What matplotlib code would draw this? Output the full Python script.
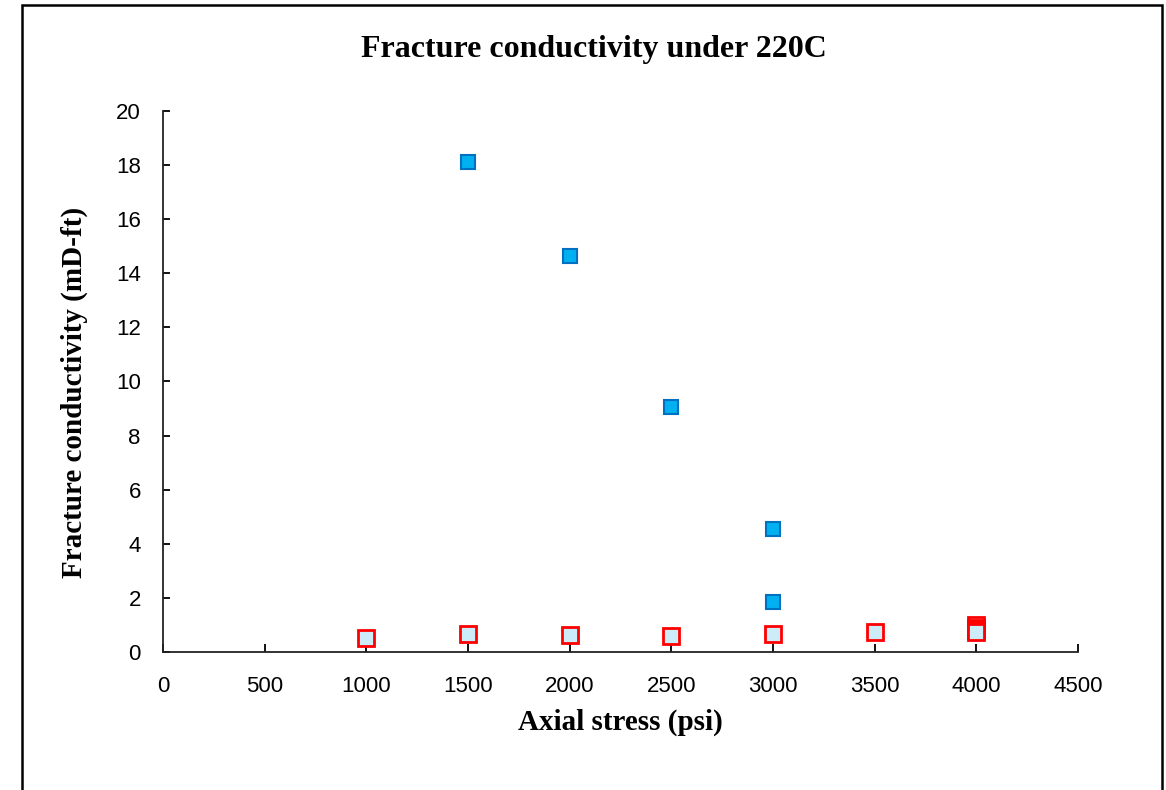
import numpy as np
import matplotlib.pyplot as plt
from matplotlib.patches import Rectangle

# axial stress (psi) and fracture conductivity (mD-ft)
stress_a = [1500, 2000, 2500, 3000, 3000]
cond_a = [18.1, 14.65, 9.05, 4.55, 1.83]

stress_b = [1000, 1500, 2000, 2500, 3000, 3500, 4000, 4000, 4000, 4000]
cond_b = [0.52, 0.67, 0.63, 0.59, 0.67, 0.74, 1.0, 0.9, 0.82, 0.74]

x_ticks = np.arange(0, 4501, 500)
y_ticks = np.arange(0, 21, 2)

fig = plt.figure(figsize=(11.66, 7.9), dpi=100)
ax = fig.add_axes([0.1398, 0.1747, 0.7847, 0.6848])

ax.plot(stress_b, cond_b, 's', ms=11.5, mfc='#CCECFA', mec='#FF0000', mew=2.0,
        zorder=3)
ax.plot(stress_a, cond_a, 's', ms=10, mfc='#00B0F0', mec='#0070C0', mew=1.5,
        zorder=4)

ax.set_xlim(0, 4500)
ax.set_ylim(0, 20)
ax.set_xticks(x_ticks)
ax.set_yticks(y_ticks)
for lab in ax.get_xticklabels() + ax.get_yticklabels():
    lab.set_fontfamily('Liberation Sans')
    lab.set_fontsize(16)
ax.tick_params(axis='x', direction='in', length=6, width=1.3, pad=17,
               colors='black')
ax.tick_params(axis='y', direction='in', length=5, width=1.3, pad=16,
               colors='black')

for side in ['top', 'right']:
    ax.spines[side].set_visible(False)
for side in ['left', 'bottom']:
    ax.spines[side].set_linewidth(1.3)
    ax.spines[side].set_color('#222222')

serif = {'family': 'Liberation Serif', 'weight': 'bold'}
fig.text(0.509, 0.937, 'Fracture conductivity under 220C', fontsize=23,
         ha='center', va='center', **serif)
fig.text(0.532, 0.086, 'Axial stress (psi)', fontsize=21,
         ha='center', va='center', **serif)
fig.text(0.064, 0.503, 'Fracture conductivity (mD-ft)', fontsize=21,
         ha='center', va='center', rotation=90, **serif)

# chart frame
fig.patches.append(Rectangle((22 / 1166, -0.05), 1140 / 1166, 1.05 - 5 / 790,
                             transform=fig.transFigure, fill=False,
                             edgecolor='black', linewidth=1.8))

fig.savefig('out.png', dpi=100)
